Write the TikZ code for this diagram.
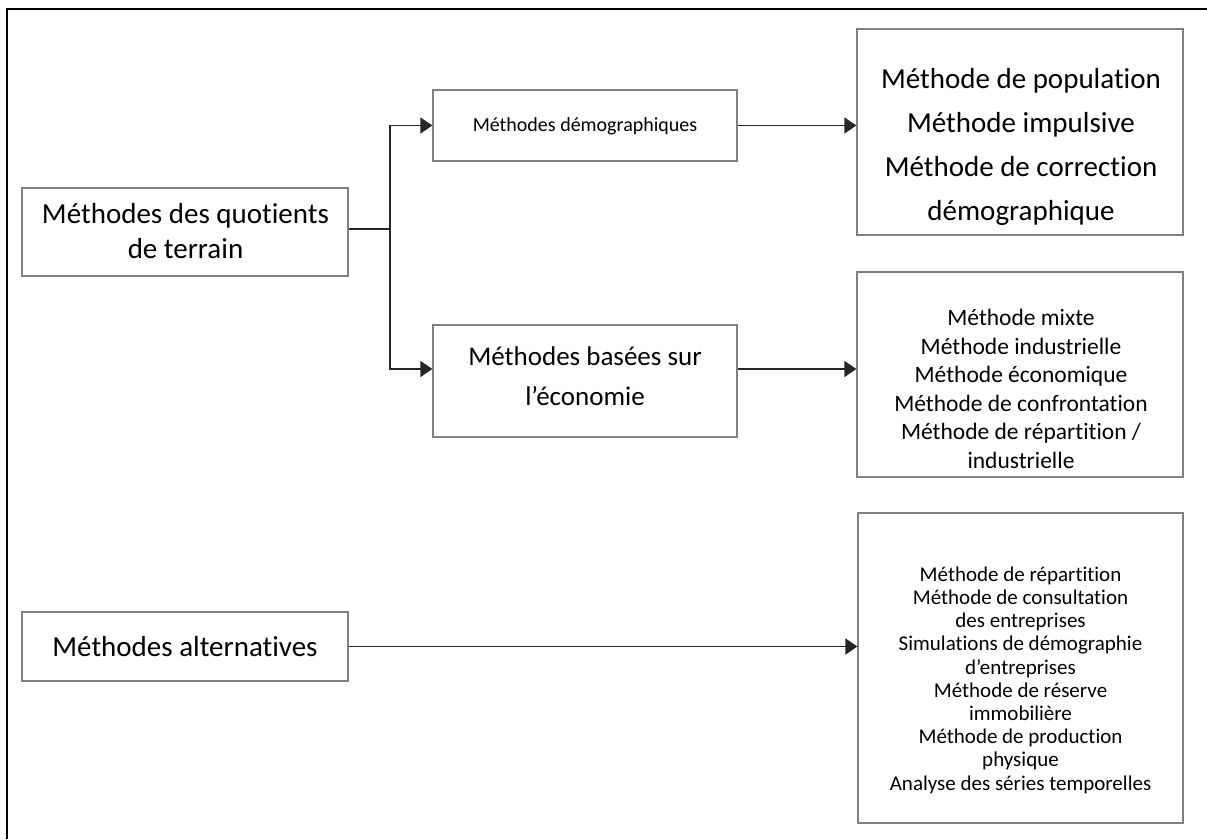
\documentclass[tikz,border=0pt]{standalone}
\usepackage{fontspec}
\setmainfont{Carlito}[Ligatures=NoCommon]
\usetikzlibrary{arrows.meta}
\newcommand\fsz[2]{\fontsize{#1}{#2}\selectfont}
\tikzset{
  box/.style={draw=black!50, line width=1.2pt, inner sep=0pt, fill=white},
  lbl/.style={align=center, inner sep=0pt, text=black},
  conn/.style={draw=black!85, line width=1.5pt},
  arr/.style={conn, -{Triangle[length=12pt,width=16pt]}},
}
\begin{document}
\begin{tikzpicture}[x=1pt,y=-1pt]
\useasboundingbox (0,0) rectangle (1207,839);
% outer frame (top and left only visible)
\draw[line width=1.5pt, black] (7,839) -- (7,9) -- (1207,9);

% boxes
\node[box, minimum width=326pt, minimum height=88pt] (A) at (185,232) {};
\node[box, minimum width=304pt, minimum height=71pt] (B) at (585,125.5) {};
\node[box, minimum width=304pt, minimum height=112pt] (C) at (585,381) {};
\node[box, minimum width=326pt, minimum height=206pt] (D) at (1020,132) {};
\node[box, minimum width=326pt, minimum height=205pt] (E) at (1020,374.5) {};
\node[box, minimum width=325pt, minimum height=310pt] (F) at (1020.5,668) {};
\node[box, minimum width=326pt, minimum height=69pt] (G) at (185,646.5) {};

% texts
\node[lbl, font=\fsz{29}{35}] (tA) at (185.5,231) {Méthodes des quotients\\de terrain};
\node[lbl, font=\fsz{20}{24}] (tB) at (585,126) {Méthodes démographiques};
\node[lbl, font=\fsz{27}{40}] (tC) at (585,376) {Méthodes basées sur\\l’économie};
\node[lbl, font=\fsz{29}{44}] (tD) at (1021,147) {Méthode de population\\Méthode impulsive\\Méthode de correction\\démographique};
\node[lbl, font=\fsz{23.5}{28.6}] (tE) at (1021,389) {Méthode mixte\\Méthode industrielle\\Méthode économique\\Méthode de confrontation\\Méthode de répartition /\\industrielle};
\node[lbl, font=\fsz{21}{23.2}] (tF) at (1020.5,680) {Méthode de répartition\\Méthode de consultation\\des entreprises\\Simulations de démographie\\d’entreprises\\Méthode de réserve\\immobilière\\Méthode de production\\physique\\Analyse des séries temporelles};
\node[lbl, font=\fsz{29}{35}] (tG) at (185,647) {Méthodes alternatives};

% connectors
\coordinate (J) at (390,229);
\draw[conn] (A.east |- J) -- (J);
\draw[arr] (J) |- (B.west);
\draw[arr] (J) |- ([yshift=12pt]C.west);
\draw[arr] (B.east) -- (B.east -| D.west);
\draw[arr] ([yshift=12pt]C.east) -- ([yshift=12pt]C.east -| E.west);
\draw[arr] (G.east) -- (G.east -| F.west);
\end{tikzpicture}
\end{document}
